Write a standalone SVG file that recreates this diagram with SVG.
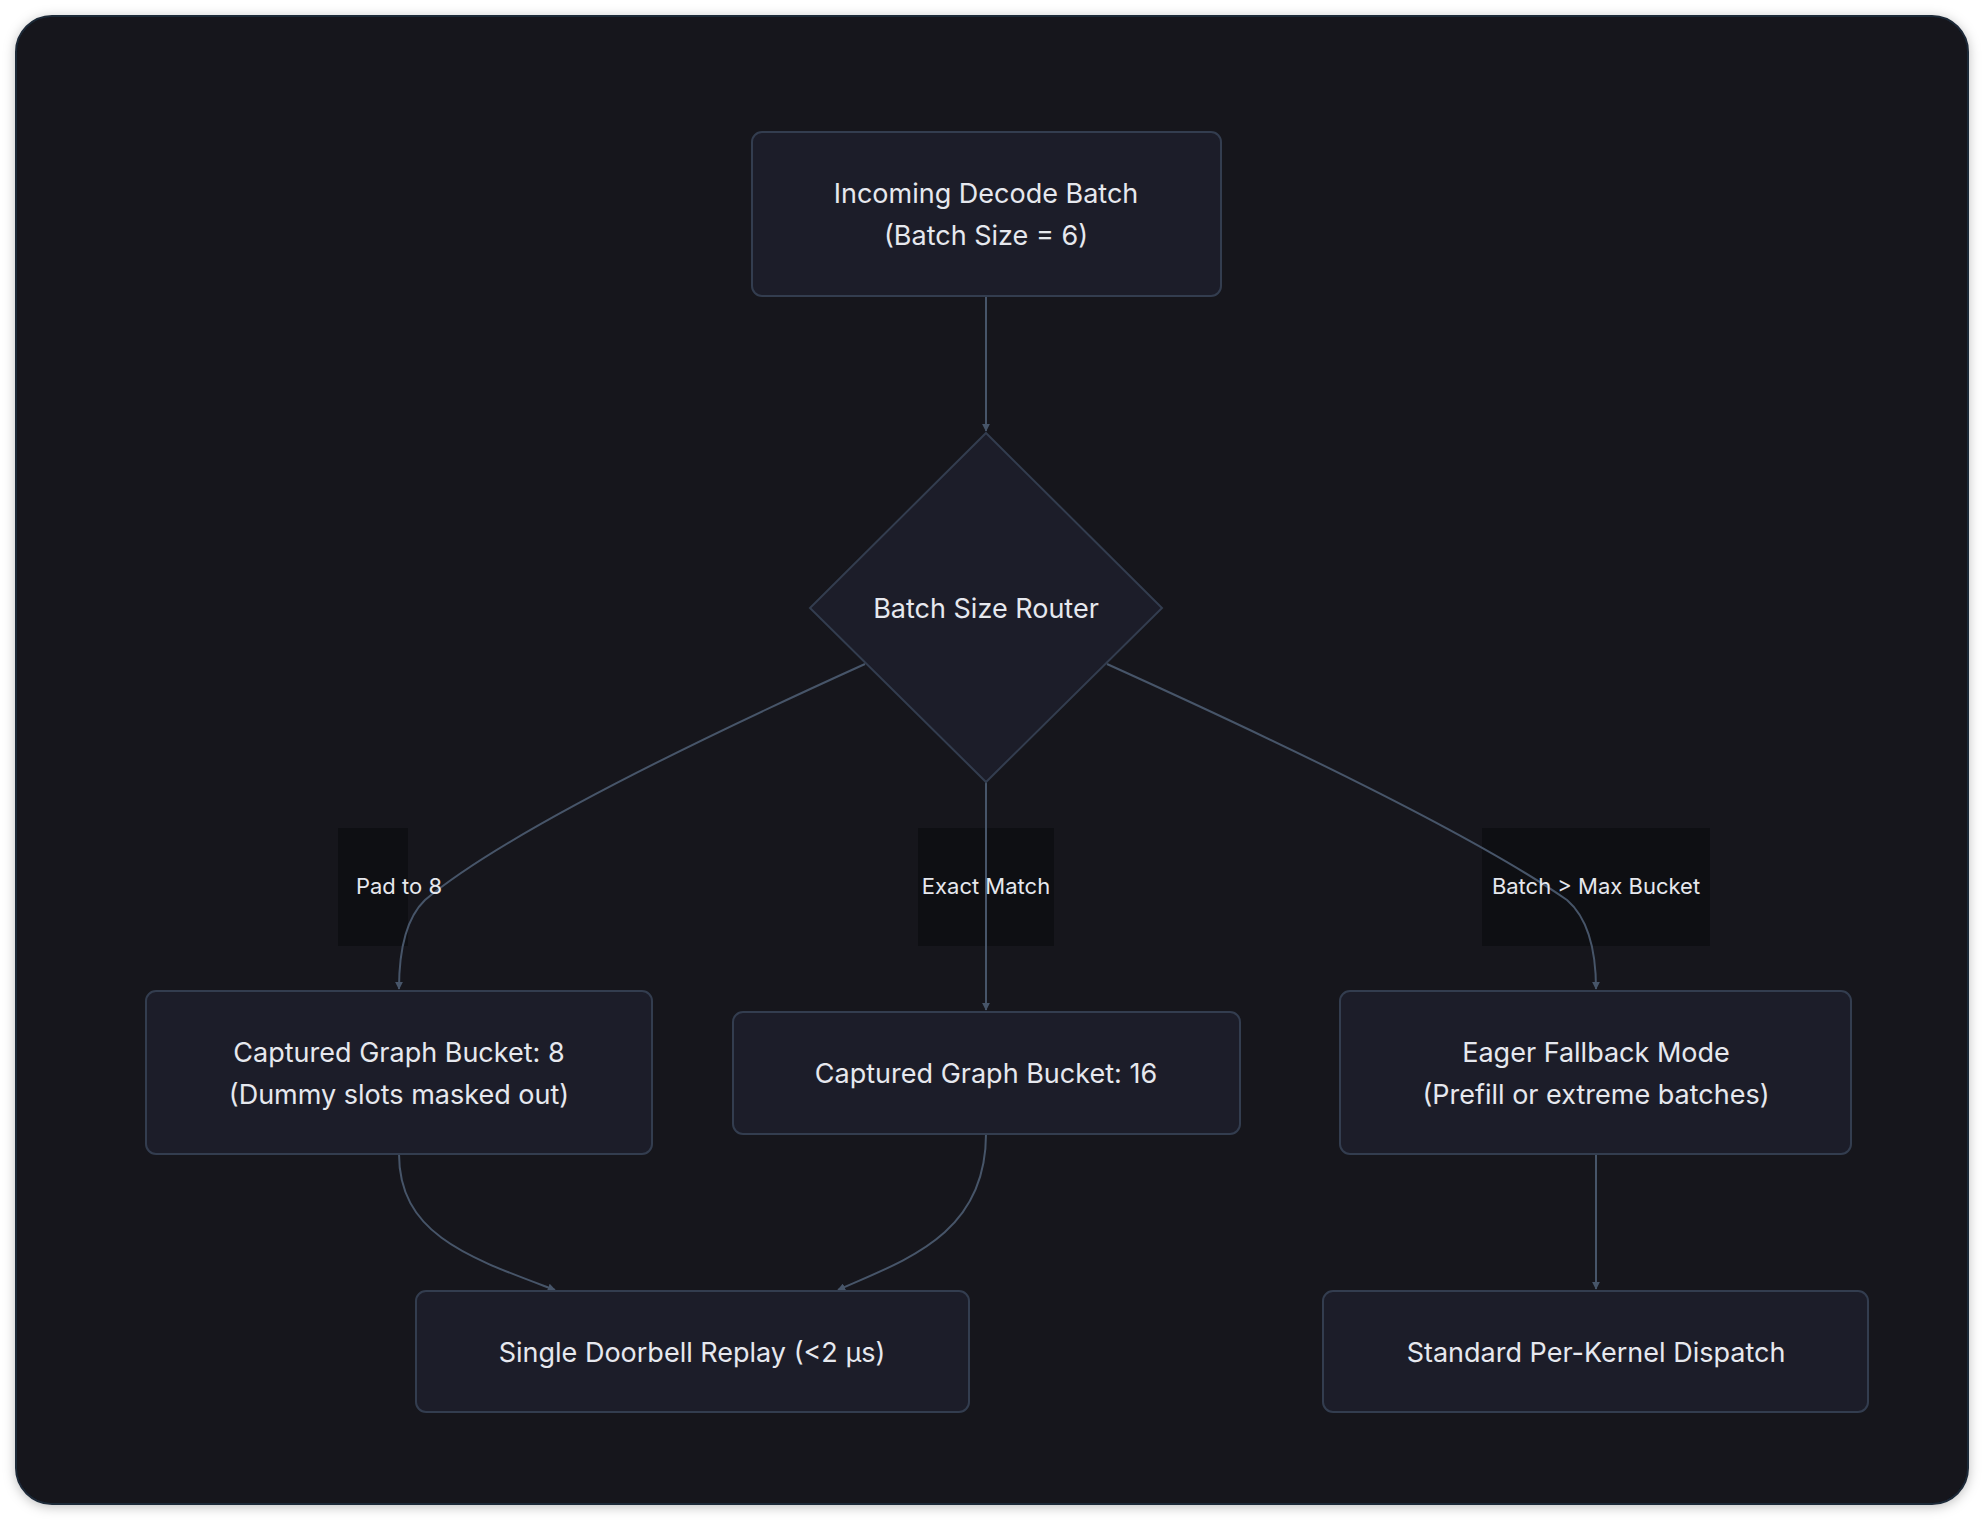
<svg xmlns="http://www.w3.org/2000/svg" width="1984" height="1520" viewBox="0 0 1984 1520">
<defs>
<style>
.n{fill:#1c1d29;stroke:#333d4f;stroke-width:2}
.t{font-family:Inter,"Noto Sans",sans-serif;font-size:27px;fill:#e6e8ee;text-anchor:middle}
.l{font-family:Inter,"Noto Sans",sans-serif;font-size:22px;fill:#e6e8ee;text-anchor:middle}
.e{fill:none;stroke:#475569;stroke-width:2}
.lb{fill:#0e0f13}
</style>
<marker id="a" viewBox="0 0 10 10" refX="9" refY="5" markerWidth="8" markerHeight="8" orient="auto" markerUnits="userSpaceOnUse"><path d="M0,0 L10,5 L0,10 z" fill="#475569"/></marker>
<filter id="sh" x="-5%" y="-5%" width="110%" height="110%"><feDropShadow dx="0" dy="2" stdDeviation="6" flood-opacity="0.25"/></filter>
</defs>
<rect width="1984" height="1520" fill="#ffffff"/>
<rect x="16" y="16" width="1952" height="1488" rx="36" fill="#12141b" stroke="#1f2937" stroke-width="2" filter="url(#sh)"/>
<g id="edges">
<path class="e" d="M986,296 L986,431" marker-end="url(#a)"/>
<rect class="lb" x="338" y="828" width="70" height="118"/>
<rect class="lb" x="918" y="828" width="136" height="118"/>
<rect class="lb" x="1482" y="828" width="228" height="118"/>
<path class="e" d="M865,664 Q520,820 425,900 Q399,925 399,989" marker-end="url(#a)"/>
<path class="e" d="M986,782 L986,1010" marker-end="url(#a)"/>
<path class="e" d="M1107,664 Q1452,820 1567,900 Q1596,925 1596,989" marker-end="url(#a)"/>
<path class="e" d="M399,1154 C399,1235 470,1258 555,1290" marker-end="url(#a)"/>
<path class="e" d="M986,1134 C986,1235 905,1260 838,1290" marker-end="url(#a)"/>
<path class="e" d="M1596,1154 L1596,1289" marker-end="url(#a)"/>
<text class="l" x="399" y="894">Pad to 8</text>
<text class="l" x="986" y="894">Exact Match</text>
<text class="l" x="1596" y="894">Batch &gt; Max Bucket</text>
</g>
<g id="n1"><rect class="n" x="752" y="132" width="469" height="164" rx="10"/><text class="t" x="986" y="203">Incoming Decode Batch</text><text class="t" x="986" y="245">(Batch Size = 6)</text></g>
<g id="n2"><path class="n" d="M986,433 L1162,608 L986,782 L810,608 Z"/><text class="t" x="986" y="618">Batch Size Router</text></g>
<g id="n3"><rect class="n" x="146" y="991" width="506" height="163" rx="10"/><text class="t" x="399" y="1062">Captured Graph Bucket: 8</text><text class="t" x="399" y="1104">(Dummy slots masked out)</text></g>
<g id="n4"><rect class="n" x="733" y="1012" width="507" height="122" rx="10"/><text class="t" x="986" y="1083">Captured Graph Bucket: 16</text></g>
<g id="n5"><rect class="n" x="1340" y="991" width="511" height="163" rx="10"/><text class="t" x="1596" y="1062">Eager Fallback Mode</text><text class="t" x="1596" y="1104">(Prefill or extreme batches)</text></g>
<g id="n6"><rect class="n" x="416" y="1291" width="553" height="121" rx="10"/><text class="t" x="692" y="1362">Single Doorbell Replay (&lt;2 µs)</text></g>
<g id="n7"><rect class="n" x="1323" y="1291" width="545" height="121" rx="10"/><text class="t" x="1596" y="1362">Standard Per-Kernel Dispatch</text></g>
</svg>
